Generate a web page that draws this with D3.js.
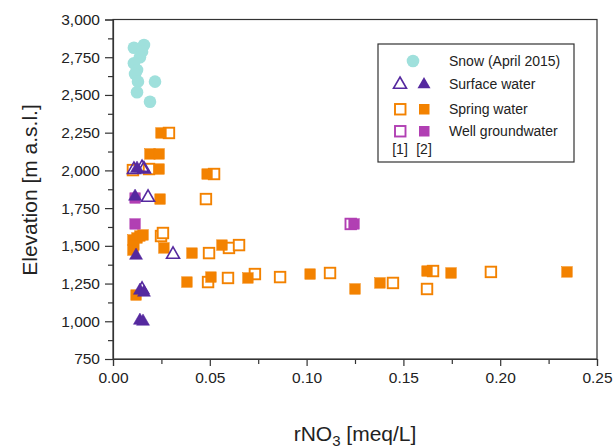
<!DOCTYPE html>
<html>
<head>
<meta charset="utf-8">
<script src="https://cdn.jsdelivr.net/npm/d3@7"></script>
<style>
  body { margin: 0; background: #fff; }
  text { font-family: "Liberation Sans", Arial, sans-serif; fill: #222; }
</style>
</head>
<body>
<div id="chart"></div>
<script>
// values: [rNO3 meq/L, elevation m a.s.l.]
const snow = [[0.0108, 2813], [0.016, 2831], [0.015, 2787], [0.0139, 2750], [0.0108, 2710],
  [0.0124, 2665], [0.0114, 2639], [0.0129, 2588], [0.0217, 2588], [0.0124, 2518], [0.0191, 2455]];

const surfaceOpen = [[0.0108, 2009], [0.015, 2022], [0.016, 2012], [0.0181, 1824], [0.031, 1446], [0.015, 1214]];
const surfaceFilled = [[0.0124, 2016], [0.0114, 1830], [0.0119, 1439], [0.0139, 1207], [0.016, 1194], [0.0139, 1008], [0.0155, 1002]];

const springOpen = [[0.0289, 2248], [0.0103, 2002], [0.0186, 2009], [0.0522, 1976], [0.048, 1810],
  [0.0248, 1565], [0.0258, 1585], [0.0496, 1452], [0.0599, 1486], [0.0651, 1505], [0.0491, 1260],
  [0.0594, 1287], [0.0733, 1313], [0.0863, 1293], [0.1121, 1320], [0.1446, 1254], [0.1653, 1333],
  [0.1622, 1214], [0.1952, 1327]];
const springFilled = [[0.0248, 2248], [0.0191, 2109], [0.0238, 2109], [0.0238, 2009], [0.0486, 1976],
  [0.0243, 1810], [0.0103, 1539], [0.0124, 1552], [0.0139, 1565], [0.0155, 1572], [0.0108, 1505],
  [0.0103, 1472], [0.0263, 1486], [0.0408, 1452], [0.0563, 1505], [0.0506, 1293], [0.0382, 1260],
  [0.0697, 1287], [0.1018, 1313], [0.125, 1214], [0.1379, 1254], [0.1622, 1333], [0.1746, 1320],
  [0.2345, 1327], [0.0119, 1174]];

const wellOpen = [[0.1228, 1645]];
const wellFilled = [[0.0114, 1817], [0.0114, 1645], [0.1245, 1645]];

const xTicks = [0, 0.05, 0.10, 0.15, 0.20, 0.25];
const yTicks = [750, 1000, 1250, 1500, 1750, 2000, 2250, 2500, 2750, 3000];

const W = 616, H = 448;
const mLeft = 113, mRight = 597, mTop = 19.5, mBottom = 359;

const cSnow = '#9fe0dc', cSurf = '#55299f', cSpring = '#f38200', cWell = '#b13fb3';

const svg = d3.select('#chart').append('svg')
  .attr('width', W).attr('height', H);

const x = d3.scaleLinear().domain([0, 0.25]).range([mLeft, mRight]);
const y = d3.scaleLinear().domain([750, 3000]).range([mBottom, mTop]);

// frame
svg.append('rect')
  .attr('x', mLeft).attr('y', mTop)
  .attr('width', mRight - mLeft).attr('height', mBottom - mTop)
  .attr('fill', 'none').attr('stroke', '#333').attr('stroke-width', 1.2);

// minor ticks
svg.append('g')
  .attr('transform', `translate(0,${mBottom})`)
  .call(d3.axisBottom(x).tickValues(d3.range(0.025, 0.25, 0.05)).tickSize(5).tickFormat(''))
  .call(g => g.select('.domain').remove());
svg.append('g')
  .attr('transform', `translate(${mLeft},0)`)
  .call(d3.axisLeft(y).tickValues(d3.range(875, 3000, 250)).tickSize(5).tickFormat(''))
  .call(g => g.select('.domain').remove());

// major axes
const xAxis = svg.append('g')
  .attr('transform', `translate(0,${mBottom})`)
  .call(d3.axisBottom(x).tickValues(xTicks).tickSize(7).tickPadding(6).tickFormat(d3.format('.2f')));
const yAxis = svg.append('g')
  .attr('transform', `translate(${mLeft},0)`)
  .call(d3.axisLeft(y).tickValues(yTicks).tickSize(8).tickPadding(5).tickFormat(d3.format(',')));

svg.selectAll('.tick line, .domain').attr('stroke', '#333').attr('stroke-width', 1.2);
[xAxis, yAxis].forEach(g => {
  g.selectAll('text').attr('font-size', 15.5).attr('fill', '#222')
    .attr('font-family', '"Liberation Sans", Arial, sans-serif');
});

// markers
const sq = 10.5, tri = 13;
function triPath(cx, cy, s) {
  const h = s * 0.87;
  return `M${cx},${cy - h * 0.62}L${cx + s / 2},${cy + h * 0.38}L${cx - s / 2},${cy + h * 0.38}Z`;
}

function squares(data, color, filled) {
  svg.append('g').selectAll('rect').data(data).enter().append('rect')
    .attr('x', d => x(d[0]) - sq / 2)
    .attr('y', d => y(d[1]) - sq / 2)
    .attr('width', sq).attr('height', sq)
    .attr('fill', filled ? color : '#fff')
    .attr('stroke', color).attr('stroke-width', filled ? 0.5 : 1.9);
}
function triangles(data, color, filled) {
  svg.append('g').selectAll('path').data(data).enter().append('path')
    .attr('d', d => triPath(x(d[0]), y(d[1]), tri))
    .attr('fill', filled ? color : 'none')
    .attr('stroke', color).attr('stroke-width', filled ? 0.5 : 1.6);
}

svg.append('g').selectAll('circle').data(snow).enter().append('circle')
  .attr('cx', d => x(d[0])).attr('cy', d => y(d[1]))
  .attr('r', 6.3).attr('fill', cSnow);

squares(springOpen, cSpring, false);
squares(springFilled, cSpring, true);
squares(wellOpen, cWell, false);
squares(wellFilled, cWell, true);
triangles(surfaceOpen, cSurf, false);
triangles(surfaceFilled, cSurf, true);

// legend
const lg = svg.append('g');
lg.append('rect').attr('x', 378).attr('y', 44).attr('width', 196).attr('height', 118)
  .attr('fill', '#fff').attr('stroke', '#333').attr('stroke-width', 1.2);
lg.append('circle').attr('cx', 413).attr('cy', 61).attr('r', 6.3).attr('fill', cSnow);
lg.append('path').attr('d', triPath(400, 84, tri)).attr('fill', 'none').attr('stroke', cSurf).attr('stroke-width', 1.6);
lg.append('path').attr('d', triPath(424, 84, tri)).attr('fill', cSurf);
lg.append('rect').attr('x', 395).attr('y', 104).attr('width', sq).attr('height', sq)
  .attr('fill', '#fff').attr('stroke', cSpring).attr('stroke-width', 1.9);
lg.append('rect').attr('x', 419).attr('y', 104).attr('width', sq).attr('height', sq).attr('fill', cSpring);
lg.append('rect').attr('x', 395).attr('y', 126).attr('width', sq).attr('height', sq)
  .attr('fill', '#fff').attr('stroke', cWell).attr('stroke-width', 1.9);
lg.append('rect').attr('x', 419).attr('y', 126).attr('width', sq).attr('height', sq).attr('fill', cWell);

const labels = ['Snow (April 2015)', 'Surface water', 'Spring water', 'Well groundwater'];
const labelY = [61, 84, 109, 131];
lg.selectAll('text.lab').data(labels).enter().append('text')
  .attr('class', 'lab')
  .attr('x', 449).attr('y', (d, i) => labelY[i] + 5)
  .attr('font-size', 14).text(d => d);
lg.append('text').attr('x', 400).attr('y', 154).attr('text-anchor', 'middle').attr('font-size', 14).text('[1]');
lg.append('text').attr('x', 424).attr('y', 154).attr('text-anchor', 'middle').attr('font-size', 14).text('[2]');

// axis titles
const xt = svg.append('text').attr('x', 355).attr('y', 441).attr('text-anchor', 'middle').attr('font-size', 21);
xt.append('tspan').text('rNO');
xt.append('tspan').attr('font-size', 15).attr('dy', 5).text('3');
xt.append('tspan').attr('dy', -5).text(' [meq/L]');

svg.append('text')
  .attr('transform', 'translate(37,190) rotate(-90)')
  .attr('text-anchor', 'middle').attr('font-size', 21)
  .text('Elevation [m a.s.l.]');
</script>
</body>
</html>
